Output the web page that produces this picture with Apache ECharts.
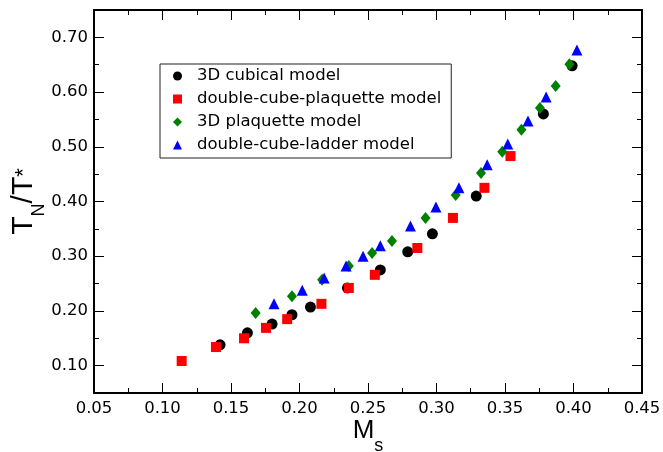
<!DOCTYPE html>
<html><head><meta charset="utf-8">
<script src="https://cdn.jsdelivr.net/npm/echarts@6/dist/echarts.min.js"></script>
<style>html,body{margin:0;padding:0;background:#fff}#c{width:663px;height:452px}</style>
</head><body><div id="c"></div>
<script>
// ---- data ----
const seriesNames = ['3D cubical model', 'double-cube-plaquette model', '3D plaquette model', 'double-cube-ladder model'];
const cubicalX = [0.142, 0.162, 0.180, 0.1945, 0.208, 0.235, 0.259, 0.279, 0.297, 0.329, 0.378, 0.399];
const cubicalY = [0.138, 0.160, 0.176, 0.193, 0.207, 0.242, 0.275, 0.308, 0.341, 0.410, 0.560, 0.648];
const dcPlaqX = [0.114, 0.139, 0.1595, 0.1755, 0.191, 0.216, 0.236, 0.255, 0.286, 0.312, 0.335, 0.354];
const dcPlaqY = [0.1085, 0.134, 0.150, 0.169, 0.185, 0.213, 0.242, 0.266, 0.315, 0.370, 0.425, 0.483];
const plaq3dX = [0.168, 0.1945, 0.2165, 0.236, 0.253, 0.2675, 0.292, 0.314, 0.3325, 0.348, 0.362, 0.3755, 0.387, 0.397];
const plaq3dY = [0.196, 0.227, 0.257, 0.282, 0.306, 0.328, 0.370, 0.412, 0.452, 0.491, 0.531, 0.571, 0.611, 0.651];
const ladderX = [0.1814, 0.202, 0.218, 0.234, 0.2464, 0.259, 0.281, 0.2996, 0.3164, 0.337, 0.352, 0.3668, 0.380, 0.4025];
const ladderY = [0.213, 0.238, 0.260, 0.282, 0.300, 0.319, 0.355, 0.390, 0.425, 0.467, 0.505, 0.547, 0.591, 0.677];
const yLabelValues = [0.10, 0.20, 0.30, 0.40, 0.50, 0.60, 0.70];

const FONT = '"DejaVu Sans", "Liberation Sans", Arial, sans-serif';
const TFONT = '"Liberation Sans", Arial, Helvetica, sans-serif';
const pair = (xs, ys) => xs.map((x, i) => [x, ys[i]]);
const axisLineStyle = { color: '#000', width: 2 };
const tickLine = { color: '#000', width: 1 };

function xAxisDef(pos, withLabels) {
  return {
    type: 'value', position: pos, min: 0.05, max: 0.45, interval: 0.05,
    axisLine: { show: true, onZero: false, lineStyle: axisLineStyle },
    axisTick: { show: true, inside: true, length: 10, lineStyle: tickLine },
    minorTick: { show: true, splitNumber: 2, length: 5, lineStyle: tickLine },
    splitLine: { show: false }, minorSplitLine: { show: false },
    axisLabel: withLabels ? {
      show: true, fontFamily: FONT, fontSize: 16.5, color: '#000', margin: 7,
      formatter: v => v.toFixed(2)
    } : { show: false }
  };
}
function yAxisDef(pos, longTicks, withLabels) {
  return {
    type: 'value', position: pos, min: 0.05, max: 0.75, interval: 0.05,
    splitLine: { show: false },
    axisLine: { show: !longTicks, onZero: false, lineStyle: axisLineStyle },
    axisTick: longTicks
      ? { show: true, inside: true, length: 10, lineStyle: tickLine, customValues: yLabelValues }
      : { show: true, inside: true, length: 5, lineStyle: tickLine },
    axisLabel: withLabels ? {
      show: true, fontFamily: FONT, fontSize: 16.5, color: '#000', margin: 6,
      customValues: yLabelValues, formatter: v => v.toFixed(2)
    } : { show: false }
  };
}

const xBottom = xAxisDef('bottom', true);
xBottom.name = '{m|M}{s|s}';
xBottom.nameLocation = 'middle';
xBottom.nameGap = 14;
xBottom.nameMoveOverlap = false;
xBottom.nameTextStyle = {
  fontFamily: TFONT, color: '#000',
  rich: {
    m: { fontFamily: TFONT, fontSize: 26, color: '#000', lineHeight: 48, verticalAlign: 'middle' },
    s: { fontFamily: TFONT, fontSize: 18, color: '#000', lineHeight: 48, verticalAlign: 'bottom' }
  }
};
const yLeft = yAxisDef('left', false, true);
yLeft.name = '{t|T}{s|N}{t|/T}{u|*}';
yLeft.nameLocation = 'middle';
yLeft.nameRotate = 90;
yLeft.nameGap = 46;
yLeft.nameMoveOverlap = false;
yLeft.nameTextStyle = {
  fontFamily: TFONT, color: '#000',
  rich: {
    t: { fontFamily: TFONT, fontSize: 30, color: '#000', lineHeight: 48, verticalAlign: 'middle' },
    s: { fontFamily: TFONT, fontSize: 18, color: '#000', lineHeight: 48, verticalAlign: 'bottom' },
    u: { fontFamily: TFONT, fontSize: 22, color: '#000', lineHeight: 48, verticalAlign: 'middle' }
  }
};

const chart = echarts.init(document.getElementById('c'), null, { renderer: 'canvas' });
chart.setOption({
  animation: false,
  backgroundColor: '#fff',
  grid: { left: 94, right: 21, top: 10, bottom: 59, containLabel: false, outerBoundsMode: 'none' },
  xAxis: [xBottom, xAxisDef('top', false)],
  yAxis: [yLeft, yAxisDef('left', true, false), yAxisDef('right', false, false), yAxisDef('right', true, false)],
  legend: {
    orient: 'vertical', left: 160, top: 64,
    padding: [3, 10, 4, 13], itemGap: 5, itemWidth: 9, itemHeight: 9,
    borderColor: '#222', borderWidth: 1, backgroundColor: '#fff',
    textStyle: { fontFamily: FONT, fontSize: 16.5, color: '#000', lineHeight: 18, padding: [0, 0, 0, 10] },
    data: seriesNames
  },
  series: [
    { name: seriesNames[0], type: 'scatter', symbol: 'circle', symbolSize: 11,
      itemStyle: { color: '#000', opacity: 1 }, data: pair(cubicalX, cubicalY) },
    { name: seriesNames[1], type: 'scatter', symbol: 'rect', symbolSize: 10,
      itemStyle: { color: '#ff0000', opacity: 1 }, data: pair(dcPlaqX, dcPlaqY) },
    { name: seriesNames[2], type: 'scatter', symbol: 'diamond', symbolSize: [10, 12],
      itemStyle: { color: '#008000', opacity: 1 }, data: pair(plaq3dX, plaq3dY) },
    { name: seriesNames[3], type: 'scatter', symbol: 'triangle', symbolSize: 11,
      itemStyle: { color: '#0000ff', opacity: 1 }, data: pair(ladderX, ladderY) }
  ]
});
</script>
</body></html>
